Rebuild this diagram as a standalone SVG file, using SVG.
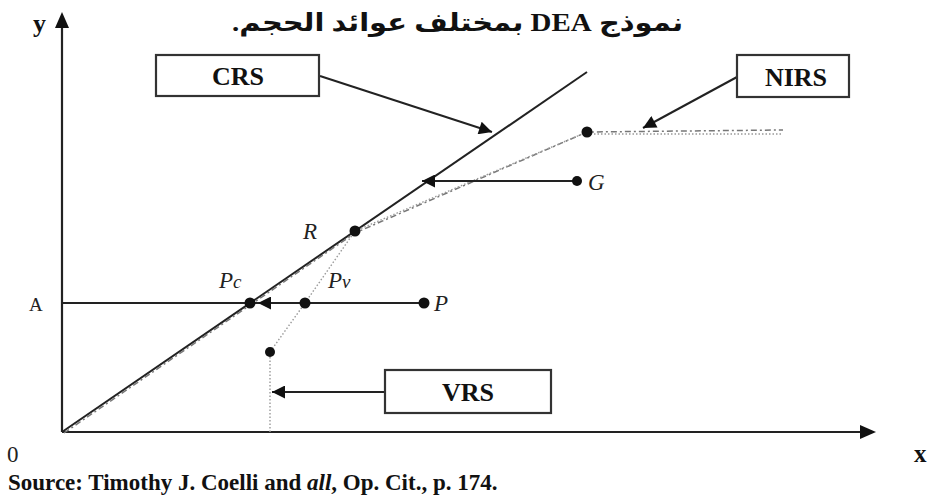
<svg xmlns="http://www.w3.org/2000/svg" width="932" height="500" viewBox="0 0 932 500">
<style>
.ax{stroke:#222;stroke-width:2.2;fill:none}
.ln{stroke:#222;stroke-width:2;fill:none}
.box{fill:#fff;stroke:#333;stroke-width:2.2}
.bt{font-family:"Liberation Serif",serif;font-weight:bold;font-size:26px;fill:#111;text-anchor:middle}
.it{font-family:"Liberation Serif",serif;font-style:italic;font-size:23px;fill:#222}
.dd{stroke:#777;stroke-width:1.5;stroke-dasharray:6 3 2 3;fill:none}
.dt{stroke:#999;stroke-width:1.4;stroke-dasharray:1.5 2;fill:none}
.pt{fill:#111}
</style>
<defs>
<marker id="ah2" viewBox="0 0 10 10" refX="10" refY="5" markerWidth="17" markerHeight="13" orient="auto" markerUnits="userSpaceOnUse">
<path d="M0,0 L10,5 L0,10 z" fill="#111"/>
</marker>
</defs>
<text x="683" y="31" direction="rtl" font-family="'Liberation Serif','DejaVu Sans',serif" font-weight="bold" font-size="25" fill="#111" textLength="451" lengthAdjust="spacingAndGlyphs">نموذج DEA بمختلف عوائد الحجم.</text>
<g id="axes">
<line class="ax" x1="62" y1="432" x2="62" y2="26"/>
<path d="M55,28 L62,12 L69,28 z" fill="#111"/>
<line class="ax" x1="62" y1="432" x2="862" y2="432"/>
<path d="M860,425 L876,432 L860,439 z" fill="#111"/>
<text x="33" y="32" font-family="'Liberation Serif',serif" font-weight="bold" font-size="26" fill="#111">y</text>
<text x="914" y="462" font-family="'Liberation Serif',serif" font-weight="bold" font-size="25" fill="#111">x</text>
<text x="7" y="462" font-family="'Liberation Serif',serif" font-size="23" fill="#222">0</text>
<text x="29" y="311" font-family="'Liberation Serif',serif" font-size="19" fill="#222">A</text>
</g>
<g id="frontiers">
<line class="ln" x1="62" y1="432" x2="587" y2="72"/>
<polyline class="dd" points="64,433 355,233 587,132 783,130"/>
<line class="dt" x1="587" y1="134" x2="783" y2="134"/>
<polyline class="dt" points="270,432 270,352 305,303 355,231 587,132"/>
</g>
<g id="connectors">
<line class="ln" x1="62" y1="303" x2="424" y2="303"/>
<line class="ln" x1="424" y1="303" x2="258" y2="303" marker-end="url(#ah2)"/>
<line class="ln" x1="577" y1="181" x2="422" y2="181" marker-end="url(#ah2)"/>
<line class="ln" x1="320" y1="76" x2="492" y2="132" marker-end="url(#ah2)"/>
<line class="ln" x1="737" y1="77" x2="643" y2="128" marker-end="url(#ah2)"/>
<line class="ln" x1="385" y1="392" x2="272" y2="392" marker-end="url(#ah2)"/>
</g>
<g id="points">
<circle class="pt" cx="587" cy="132" r="5.5"/>
<circle class="pt" cx="577" cy="181" r="5"/>
<circle class="pt" cx="355" cy="231" r="5.5"/>
<circle class="pt" cx="250" cy="303" r="5.5"/>
<circle class="pt" cx="305" cy="303" r="5.5"/>
<circle class="pt" cx="424" cy="303" r="5.5"/>
<circle class="pt" cx="270" cy="352" r="5"/>
<text class="it" x="588" y="190">G</text>
<text class="it" x="303" y="239">R</text>
<text class="it" x="219" y="288">P<tspan font-size="19">c</tspan></text>
<text class="it" x="328" y="288">P<tspan font-size="19">v</tspan></text>
<text class="it" x="434" y="311">P</text>
</g>
<g id="crs"><rect class="box" x="156" y="55" width="163" height="41"/><text class="bt" x="238" y="85">CRS</text></g>
<g id="nirs"><rect class="box" x="737" y="55" width="112" height="42"/><text class="bt" x="796" y="86">NIRS</text></g>
<g id="vrs"><rect class="box" x="385" y="370" width="166" height="43"/><text class="bt" x="468" y="401">VRS</text></g>
<text x="8" y="490" font-family="'Liberation Serif',serif" font-weight="bold" font-size="23" fill="#111">Source: Timothy J. Coelli and <tspan font-style="italic">all</tspan>, Op. Cit., p. 174.</text>
</svg>
